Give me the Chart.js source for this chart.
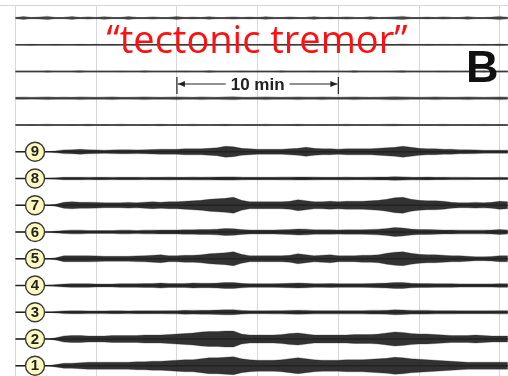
<!DOCTYPE html>
<html>
<head>
<meta charset="utf-8">
<script src="https://cdn.jsdelivr.net/npm/chart.js@4.4.1/dist/chart.umd.min.js"></script>
<style>
  html, body { margin: 0; padding: 0; background: #fff; }
  #wrap { width: 508px; height: 376px; }
</style>
</head>
<body>
<div id="wrap"><canvas id="sismo" width="508" height="376"></canvas></div>
<script>
// tiempo de cada muestra (min)
const timeMin = [0,0.5,1,1.5,2,2.5,3,3.5,4,4.5,5,5.5,6,6.5,7,7.5,8,8.5,9,9.5,
  10,10.5,11,11.5,12,12.5,13,13.5,14,14.5,15,15.5,16,16.5,17,17.5,18,18.5,19,19.5,
  20,20.5,21,21.5,22,22.5,23,23.5,24,24.5,25,25.5,26,26.5,27,27.5,28,28.5,29,29.5,30,30.5];

const gridMinutes = [0, 5, 10, 15, 20, 25, 30];
const scaleBarMin = [10, 20];
const scaleBarText = '10 min';
const titleText = '\u201Ctectonic tremor\u201D';
const panelText = 'B';

// amplitud (semi-envolvente) de las trazas sin numero, de arriba abajo
const topAmp0 = [0.4,1.4,0.4,1,1.6,0.4,0.6,1.5,0.4,1.1,0.4,1.3,0.6,0.4,1.5,0.6,0.4,1.1,0.4,0.6,
  1.5,0.4,0.9,0.4,1.3,0.4,0.6,1.1,0.4,0.9,0.4,1.3,0.6,0.4,1.1,0.4,0.6,1.3,0.4,0.9,
  0.4,1.1,0.6,0.4,1.3,0.4,0.7,1.1,1.6,0.6,0.4,0.9,0.4,1.1,0.6,0.4,1.3,0.6,0.4,0.9,1.6,0.6];
const topAmp1 = [0.2,0.2,0.4,0.2,0.2,0.5,0.2,0.2,0.4,0.2,0.3,0.2,0.5,0.2,0.2,0.4,0.2,0.2,0.6,0.2,
  0.2,0.4,0.2,0.3,0.2,0.5,0.2,0.2,0.4,0.2,0.2,0.5,0.2,0.3,0.4,0.2,0.2,0.5,0.2,0.2,
  0.4,0.2,0.3,0.5,0.2,0.2,0.4,0.2,0.6,0.2,0.2,0.4,0.2,0.3,0.2,0.5,0.2,0.2,0.4,0.2,0.7,0.2];
const topAmp2 = [0.3,0.3,0.5,0.3,0.7,0.3,0.3,0.5,0.8,0.3,0.3,0.5,0.3,0.6,0.3,0.3,0.7,0.3,0.5,0.3,
  0.3,0.6,0.3,0.3,0.8,0.5,0.3,0.3,0.6,0.3,0.5,0.3,0.3,0.7,0.3,0.5,0.3,0.6,0.3,0.3,
  0.5,0.3,0.8,0.3,0.5,0.3,0.3,0.6,0.8,0.3,0.5,0.3,0.3,0.6,0.3,0.3,0.5,0.3,0.7,0.3,0.5,0.3];
const topAmp3 = [0.9,1.1,0.8,1.1,1.3,0.9,1.1,0.9,1.3,1.1,0.9,1.1,1.3,1,0.9,1.1,1.3,1.1,0.9,1.1,
  1.3,1.1,1,1.3,1.1,0.9,1.3,1.5,1.1,1,1.1,1.3,1.1,0.9,1.1,1.3,1.1,1.1,1.3,1.1,
  1,1.1,1.3,1.1,0.9,1.1,1.3,1.5,1.3,1.1,1,1.1,1.3,1.1,0.9,1.1,1.3,1.1,1,1.1,1.3,1.1];
const topAmp4 = [0.3,0.3,0.5,0.3,0.6,0.3,0.3,0.5,0.3,0.7,0.3,0.4,0.3,0.6,0.3,0.3,0.5,0.3,0.7,0.3,
  0.4,0.3,0.6,0.3,0.3,0.5,0.7,0.3,0.3,0.5,0.3,0.6,0.3,0.3,0.5,0.7,0.3,0.3,0.5,0.3,
  0.3,0.6,0.3,0.5,0.3,0.3,0.6,0.7,0.5,0.3,0.3,0.5,0.3,0.6,0.3,0.3,0.5,0.3,0.6,0.3,0.5,0.3];

// estaciones 9 .. 1
const stationLabels = ['9', '8', '7', '6', '5', '4', '3', '2', '1'];
const amp9 = [0,0,0,0,0,0.8,1.8,2,2.5,2,1.8,1.5,1.8,2,2,1.8,2,2.2,2.5,2.5,
  2.5,3,3,3,3.5,4,5.5,5,3.5,3,2.5,2.5,2.5,2.5,3,3.5,4.5,3.5,3,3,
  2.5,3,3,3,3,3.5,4,4.5,5.5,4.5,3.5,3,3,2.5,2.5,2,2,1.8,1.5,1.5,1.5,1.5];
const amp8 = [0,0,0,0,0,0.6,1.2,1.2,1.2,1.1,1.2,1.2,1.1,1.2,1.2,1.2,1.1,1.2,1.2,1.3,
  1.2,1.2,1.3,1.2,1.3,1.4,1.6,1.6,1.3,1.2,1.2,1.2,1.2,1.3,1.3,1.5,1.5,1.3,1.2,1.2,
  1.2,1.3,1.2,1.2,1.3,1.4,1.5,1.8,1.6,1.3,1.2,1.4,1.2,1.2,1.1,1.1,1.1,1,1,1,1.1,1];
const amp7 = [0,0,0,0,0,1,3,3.5,3,3,2.8,2.5,2.5,2.5,2.8,2.5,3,3.5,3,3.5,
  3.5,4,4.5,5,6,6.5,7,8,5,3.5,3.5,3.5,3.5,3.5,4,5.5,4.5,3.5,3.5,4,
  3.5,4,4,4,4.5,5,6,7.5,8,6,5,4.5,4.5,4,3,2.5,2.5,2.8,2.5,3,4,3.5];
const amp6 = [0,0,0,0,0,0.8,1.5,1.8,1.8,1.5,1.5,1.5,1.5,1.8,1.8,1.5,1.8,1.8,2,2,
  2,2.2,2.2,2.5,2.5,2.8,3.5,3.2,2.5,2,2,2,2,2.2,2.5,3,2.8,2.2,2.2,2.2,
  2,2.2,2.2,2.2,2.5,2.8,3.5,4.5,4,3,2.5,2.5,2.2,2,2,1.8,1.8,1.8,1.8,2,2.5,2];
const amp5 = [0,0,0,0,0,1,3,3,3,3,2.8,2.5,2.5,2.5,2.5,2.8,3,3.5,4,3,
  3,3.5,3.5,4,5,5.5,6,7,4.5,3,3,3,3,3,3.5,5,4,3,3.5,4,
  3,3,3,3.5,3.5,4,5.5,6.5,7,5.5,4.5,4,4,3.5,3,3,2.5,2,2,2.2,3,3];
const amp4 = [0,0,0,0,0,0.8,1.5,1.8,1.8,1.8,1.5,1.5,1.5,1.8,1.8,1.8,2,2,2.5,2,
  2,2,2.5,2.2,2.2,2.5,3,3,2.2,1.8,1.8,1.8,1.8,2,2.2,2.5,2.2,1.8,1.8,2,
  1.8,1.8,1.8,1.8,2,2.2,2.5,3,3,2.2,2,2,1.8,1.8,1.8,1.6,1.6,1.6,1.6,1.6,1.8,1.8];
const amp3 = [0,0,0,0,0,0.6,1.3,1.4,1.4,1.3,1.3,1.3,1.4,1.4,1.3,1.4,1.4,1.5,1.5,1.6,
  1.6,2,1.8,2,2,2.2,2.5,2.5,1.8,1.5,1.5,1.5,1.6,1.6,1.8,2,1.8,1.6,1.6,1.6,
  1.6,1.6,1.6,1.6,1.8,1.8,2,2.5,2.2,1.8,1.8,1.8,1.6,1.6,1.6,1.5,1.5,1.5,1.5,1.5,1.6,1.6];
const amp2 = [0,0,0,0,0,1.2,3,3.5,3.5,3,3,3,3.5,3.5,3.5,3.5,4,4,4,4.5,
  5,5.5,6,7,7.5,7.5,8,8,5,4,4,4,4,4.5,5.5,6,5,4,4,4,
  4,4,4.5,4.5,4.5,5,6,7,6.5,5.5,5,5,4.5,4,3.5,3.5,3.5,4,3.5,3,3,3];
const amp1 = [0,0,0,0,0,1.2,2.5,2.5,3,3.5,3.5,3.5,3.5,3.5,3.5,4,4,4.5,4.5,5,
  5.5,6,6,7,8,8,8.5,9,7,6,5.5,5.5,5.5,6,7,8,7,6,5.5,5.5,
  5.5,6,6,6,6.5,7,7.5,8.5,8,7,6.5,6,5.5,5,4.5,4,3.5,3.5,3.5,3.5,3.5,3.5];

const traces = [
  { amp: topAmp0, label: null },
  { amp: topAmp1, label: null },
  { amp: topAmp2, label: null },
  { amp: topAmp3, label: null },
  { amp: topAmp4, label: null },
  { amp: amp9, label: stationLabels[0] },
  { amp: amp8, label: stationLabels[1] },
  { amp: amp7, label: stationLabels[2] },
  { amp: amp6, label: stationLabels[3] },
  { amp: amp5, label: stationLabels[4] },
  { amp: amp4, label: stationLabels[5] },
  { amp: amp3, label: stationLabels[6] },
  { amp: amp2, label: stationLabels[7] },
  { amp: amp1, label: stationLabels[8] }
];

// estilo
const AMP_SCALE = 1 / 26.75;   // amplitud -> separacion entre trazas
const LABEL_MIN = 1.21;        // posicion del circulo
const INK = '#222';

const datasets = [];
traces.forEach((tr, k) => {
  datasets.push({
    data: [{ x: timeMin[0], y: k }, { x: timeMin[timeMin.length - 1], y: k }],
    borderColor: tr.label ? INK : '#3a3a3a', borderWidth: 1.3, pointRadius: 0, fill: false
  });
  datasets.push({
    data: timeMin.map((t, i) => ({ x: t, y: k - tr.amp[i] * AMP_SCALE })),
    borderColor: 'rgba(40,40,40,0.3)', borderWidth: 1.2, pointRadius: 0, fill: false
  });
  datasets.push({
    data: timeMin.map((t, i) => ({ x: t, y: k + tr.amp[i] * AMP_SCALE })),
    borderColor: 'rgba(40,40,40,0.3)', borderWidth: 1.2, pointRadius: 0,
    fill: '-1', backgroundColor: tr.label ? 'rgba(28,28,28,0.9)' : 'rgba(60,60,60,0.8)'
  });
});

const decorPlugin = {
  id: 'decor',
  afterDatasetsDraw(chart) {
    const { ctx, chartArea, scales: { x, y } } = chart;
    ctx.save();
    // marco superior
    ctx.strokeStyle = '#d8d8d8';
    ctx.lineWidth = 1;
    ctx.beginPath();
    ctx.moveTo(chartArea.left, chartArea.top + 0.5);
    ctx.lineTo(chartArea.right, chartArea.top + 0.5);
    ctx.stroke();

    // circulos numerados
    traces.forEach((tr, k) => {
      if (!tr.label) return;
      const cx = x.getPixelForValue(LABEL_MIN);
      const cy = y.getPixelForValue(k);
      ctx.beginPath();
      ctx.arc(cx, cy, 9.5, 0, Math.PI * 2);
      ctx.fillStyle = '#fdfac0';
      ctx.fill();
      ctx.lineWidth = 1.4;
      ctx.strokeStyle = '#3a3a3a';
      ctx.stroke();
      ctx.fillStyle = INK;
      ctx.font = 'bold 15px "Liberation Sans", Arial, sans-serif';
      ctx.textAlign = 'center';
      ctx.textBaseline = 'middle';
      ctx.fillText(tr.label, cx, cy + 0.5);
    });

    // barra de escala
    const x1 = x.getPixelForValue(scaleBarMin[0]);
    const x2 = x.getPixelForValue(scaleBarMin[1]);
    const by = 84;
    ctx.strokeStyle = INK;
    ctx.fillStyle = INK;
    ctx.lineWidth = 1.2;
    ctx.font = 'bold 17px "Liberation Sans", Arial, sans-serif';
    ctx.textAlign = 'center';
    ctx.textBaseline = 'middle';
    const mid = (x1 + x2) / 2;
    const half = ctx.measureText(scaleBarText).width / 2;
    ctx.fillText(scaleBarText, mid, by + 1);
    ctx.beginPath();
    ctx.moveTo(x1, by - 7); ctx.lineTo(x1, by + 10);
    ctx.moveTo(x2, by - 7); ctx.lineTo(x2, by + 10);
    ctx.moveTo(x1 + 1, by); ctx.lineTo(mid - half - 5, by);
    ctx.moveTo(mid + half + 5, by); ctx.lineTo(x2 - 1, by);
    ctx.stroke();
    ctx.beginPath();
    ctx.moveTo(x1 + 1, by); ctx.lineTo(x1 + 8, by - 3); ctx.lineTo(x1 + 8, by + 3); ctx.closePath();
    ctx.moveTo(x2 - 1, by); ctx.lineTo(x2 - 8, by - 3); ctx.lineTo(x2 - 8, by + 3); ctx.closePath();
    ctx.fill();

    // titulo rojo
    ctx.fillStyle = '#ff1010';
    ctx.font = '500 38px "Open Sans", sans-serif';
    ctx.textAlign = 'center';
    ctx.textBaseline = 'alphabetic';
    ctx.fillText(titleText, 257, 53);

    // letra del panel
    ctx.fillStyle = '#111';
    ctx.font = 'bold 45px "Liberation Sans", Arial, sans-serif';
    ctx.textAlign = 'left';
    ctx.fillText(panelText, 466, 82);
    ctx.restore();
  }
};

new Chart(document.getElementById('sismo'), {
  type: 'line',
  data: { datasets },
  options: {
    responsive: false,
    animation: false,
    layout: { padding: { top: 5, left: 0, right: 0, bottom: 0 } },
    elements: { line: { tension: 0 } },
    plugins: { legend: { display: false }, tooltip: { enabled: false } },
    scales: {
      x: {
        type: 'linear', min: -0.96, max: 30.51,
        afterBuildTicks: (s) => { s.ticks = gridMinutes.map(v => ({ value: v })); },
        ticks: { display: false },
        grid: { color: '#d8d8d8', lineWidth: 1, drawTicks: false },
        border: { display: false }
      },
      y: {
        type: 'linear', reverse: true, min: -0.486, max: 13.383,
        display: false
      }
    }
  },
  plugins: [decorPlugin]
});
</script>
</body>
</html>
